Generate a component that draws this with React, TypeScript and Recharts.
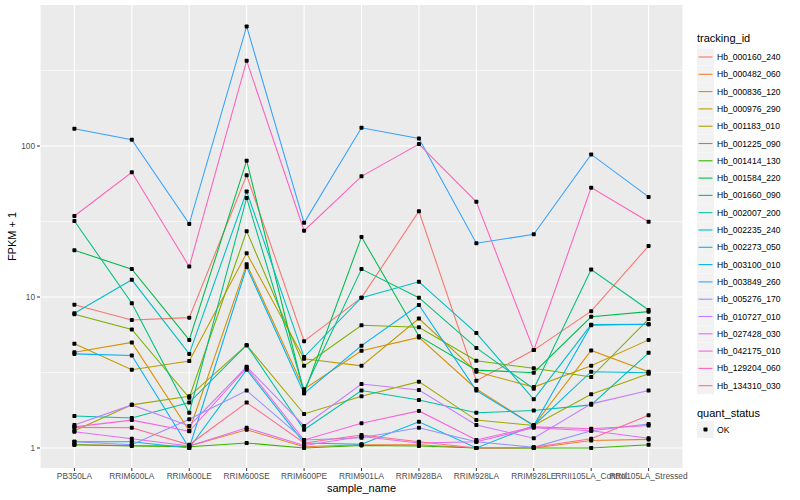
import React from "react";
import { CartesianGrid, Line, LineChart, XAxis, YAxis } from "recharts";

document.body.style.margin = "0";

const categories = [
  "PB350LA",
  "RRIM600LA",
  "RRIM600LE",
  "RRIM600SE",
  "RRIM600PE",
  "RRIM901LA",
  "RRIM928BA",
  "RRIM928LA",
  "RRIM928LE",
  "RRII105LA_Control",
  "RRII105LA_Stressed",
];

const trackingIds = [
  "Hb_000160_240",
  "Hb_000482_060",
  "Hb_000836_120",
  "Hb_000976_290",
  "Hb_001183_010",
  "Hb_001225_090",
  "Hb_001414_130",
  "Hb_001584_220",
  "Hb_001660_090",
  "Hb_002007_200",
  "Hb_002235_240",
  "Hb_002273_050",
  "Hb_003100_010",
  "Hb_003849_260",
  "Hb_005276_170",
  "Hb_010727_010",
  "Hb_027428_030",
  "Hb_042175_010",
  "Hb_129204_060",
  "Hb_134310_030",
];

// ggplot hue palette for 20 levels
const colors = [
  "#F8766D", "#EA8331", "#D89000", "#C09B00", "#A3A500",
  "#7CAE00", "#39B600", "#00BB4E", "#00BF7D", "#00C1A3",
  "#00BFC4", "#00BAE0", "#00B0F6", "#35A2FF", "#9590FF",
  "#C77CFF", "#E76BF3", "#FA62DB", "#FF62BC", "#FF6C91",
];

// FPKM + 1, one value per sample
const hb000160_240 = [8.9, 7.05, 7.3, 64, 5.1, 9.9, 37, 2.79, 4.45, 8.06, 21.8];
const hb000482_060 = [1.05, 1.04, 1.03, 1.32, 1.02, 1.05, 1.05, 1.0, 1.0, 1.12, 1.14];
const hb000836_120 = [4.3, 5.0, 1.3, 16.5, 2.45, 4.4, 5.4, 2.46, 1.41, 4.43, 3.2];
const hb000976_290 = [4.9, 3.3, 3.77, 19.5, 3.9, 3.5, 7.2, 3.2, 2.53, 3.5, 5.2];
const hb001183_010 = [1.3, 1.93, 2.2, 4.8, 1.68, 2.2, 2.75, 1.53, 1.41, 2.27, 3.1];
const hb001225_090 = [7.7, 6.1, 2.15, 27.3, 3.5, 6.5, 6.3, 3.78, 3.37, 2.95, 7.15];
const hb001414_130 = [1.05, 1.03, 1.02, 1.08, 1.0, 1.04, 1.03, 1.0, 1.0, 1.0, 1.05];
const hb001584_220 = [20.4, 15.3, 5.2, 80, 2.3, 25, 5.5, 3.28, 3.15, 7.4, 8.0];
const hb001660_090 = [31.9, 9.1, 1.71, 45.3, 2.4, 15.3, 9.9, 4.6, 2.47, 15.2, 8.2];
const hb002007_200 = [1.63, 1.58, 2.0, 4.8, 1.32, 2.4, 2.08, 1.71, 1.77, 1.93, 4.27];
const hb002235_240 = [7.8, 13, 4.2, 50, 4.0, 9.9, 12.6, 5.77, 2.1, 6.56, 6.6];
const hb002273_050 = [1.1, 1.1, 1.0, 3.3, 1.08, 1.06, 1.49, 1.0, 1.41, 3.2, 3.15];
const hb003100_010 = [4.2, 4.1, 1.0, 15.8, 2.3, 4.76, 8.85, 2.4, 1.41, 6.5, 6.6];
const hb003849_260 = [130, 110, 30.5, 620, 31, 132, 112, 22.7, 26, 88, 46];
const hb005276_170 = [1.1, 1.05, 1.55, 2.4, 1.13, 1.17, 1.36, 1.1, 1.01, 1.3, 1.44];
const hb010727_010 = [1.42, 1.93, 1.4, 3.45, 1.4, 2.65, 2.42, 1.42, 1.16, 1.96, 2.4];
const hb027428_030 = [1.28, 1.15, 1.03, 1.36, 1.04, 1.19, 1.08, 1.1, 1.36, 1.3, 1.16];
const hb042175_010 = [1.38, 1.53, 1.29, 3.4, 1.13, 1.46, 1.76, 1.13, 1.38, 1.34, 1.41];
const hb129204_060 = [34.4, 67, 15.9, 367, 27.5, 63, 103, 42.7, 4.45, 53, 31.5];
const hb134310_030 = [1.37, 1.36, 1.05, 2.0, 1.08, 1.22, 1.1, 1.0, 1.01, 1.15, 1.65];

const seriesValues = [
  hb000160_240, hb000482_060, hb000836_120, hb000976_290, hb001183_010,
  hb001225_090, hb001414_130, hb001584_220, hb001660_090, hb002007_200,
  hb002235_240, hb002273_050, hb003100_010, hb003849_260, hb005276_170,
  hb010727_010, hb027428_030, hb042175_010, hb129204_060, hb134310_030,
];

const yTicks = [1, 10, 100];
const yMinor = [3.1623, 31.623, 316.23];

const chartData = categories.map((sample, i) => {
  const row: Record<string, string | number> = { sample };
  trackingIds.forEach((id, k) => {
    row[id] = seriesValues[k][i];
  });
  return row;
});

const FONT = '"Liberation Sans", Arial, Helvetica, sans-serif';

function SquareDot(props: any) {
  const { cx, cy, index, dataKey } = props;
  if (cx == null || cy == null) return <g key={`${dataKey}-${index}`} />;
  return (
    <rect
      key={`${dataKey}-${index}`}
      x={cx - 2}
      y={cy - 2}
      width={4}
      height={4}
      rx={0.8}
      fill="#000"
    />
  );
}

function LegendPanel() {
  const rowH = 17.3;
  const top = 48.5;
  return (
    <svg
      width={110}
      height={460}
      style={{ position: "absolute", left: 690, top: 0, fontFamily: FONT }}
    >
      <text x={7} y={42} fontSize={11} fill="#000">tracking_id</text>
      {trackingIds.map((id, k) => {
        const y = top + k * rowH;
        return (
          <g key={id}>
            <rect x={7} y={y} width={17} height={17} fill="#F2F2F2" />
            <line x1={8.5} x2={22.5} y1={y + 8.5} y2={y + 8.5} stroke={colors[k]} strokeWidth={1.1} />
            <text x={27} y={y + 11.5} fontSize={8.6} fill="#000">{id}</text>
          </g>
        );
      })}
      <text x={7} y={417} fontSize={11} fill="#000">quant_status</text>
      <rect x={7} y={421} width={17} height={17} fill="#F2F2F2" />
      <rect x={13.5} y={427.5} width={4} height={4} rx={0.8} fill="#000" />
      <text x={27} y={432.5} fontSize={8.6} fill="#000">OK</text>
    </svg>
  );
}

export default function App() {
  return (
    <div style={{ position: "relative", width: 800, height: 500, background: "#fff", fontFamily: FONT }}>
      <LineChart
        width={800}
        height={500}
        data={chartData}
        margin={{ top: 5, right: 117, bottom: 0, left: 0 }}
      >
        <CartesianGrid
          fill="#EBEBEB"
          stroke="#FFFFFF"
          strokeWidth={0.55}
          vertical={false}
          horizontalValues={yMinor}
        />
        <CartesianGrid stroke="#FFFFFF" strokeWidth={1.1} horizontalValues={yTicks} fillOpacity={0} />
        <XAxis
          dataKey="sample"
          interval={0}
          padding={{ left: 34.4, right: 34.4 }}
          height={32}
          axisLine={false}
          tickSize={3}
          tickMargin={2}
          tickLine={{ stroke: "#333333" }}
          tick={{ fill: "#4D4D4D", fontSize: 8.3, fontFamily: FONT }}
          label={{ value: "sample_name", position: "insideBottom", offset: 8, fill: "#000", fontSize: 11, fontFamily: FONT }}
        />
        <YAxis
          type="number"
          scale="log"
          domain={[0.737, 859]}
          allowDataOverflow
          ticks={yTicks}
          width={40}
          axisLine={false}
          tickSize={3}
          tickMargin={2}
          tickLine={{ stroke: "#333333" }}
          tick={{ fill: "#4D4D4D", fontSize: 8.3, fontFamily: FONT }}
          label={{
            value: "FPKM + 1",
            angle: -90,
            position: "insideLeft",
            offset: 12,
            fill: "#000",
            fontSize: 11,
            fontFamily: FONT,
            style: { textAnchor: "middle" },
          }}
        />
        {trackingIds.map((id, k) => (
          <Line
            key={`line-${id}`}
            dataKey={id}
            type="linear"
            stroke={colors[k]}
            strokeWidth={1.07}
            dot={false}
            activeDot={false}
            isAnimationActive={false}
          />
        ))}
        {trackingIds.map((id) => (
          <Line
            key={`pts-${id}`}
            dataKey={id}
            type="linear"
            stroke="none"
            dot={SquareDot}
            activeDot={false}
            legendType="none"
            isAnimationActive={false}
          />
        ))}
      </LineChart>
      <LegendPanel />
    </div>
  );
}
